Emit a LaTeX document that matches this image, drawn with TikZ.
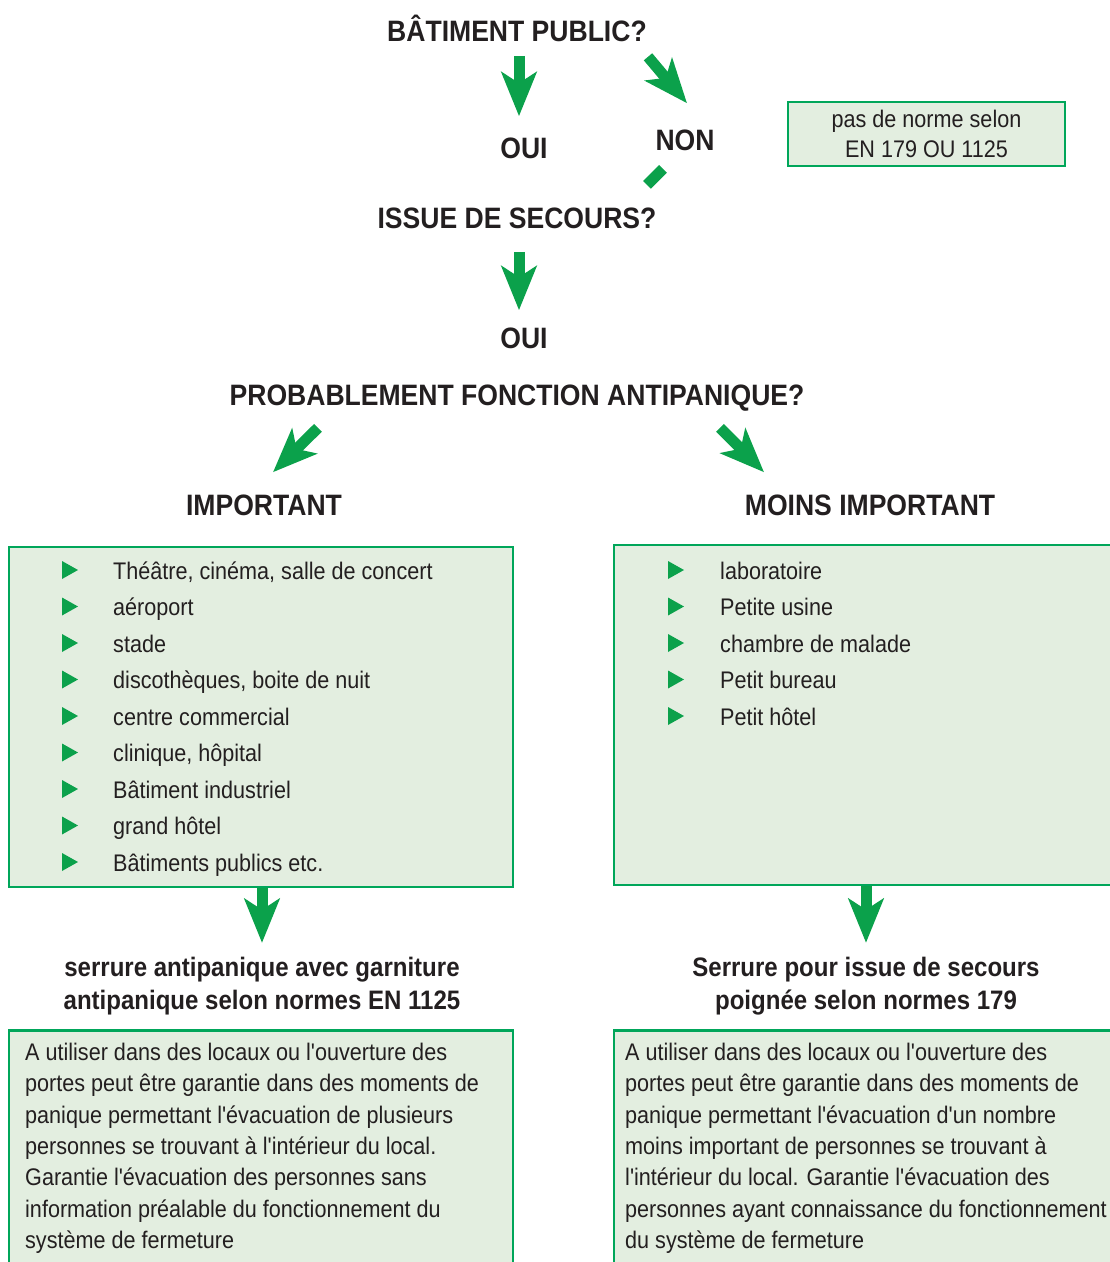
\documentclass[tikz,border=0pt]{standalone}
\usepackage{fontspec}
\setmainfont[FakeStretch=0.9,Ligatures=TeXOff]{Liberation Sans}
\usetikzlibrary{arrows.meta,positioning}

\definecolor{vert}{RGB}{11,161,75}
\definecolor{bord}{RGB}{0,166,90}
\definecolor{fond}{RGB}{227,238,224}
\definecolor{encre}{RGB}{35,31,32}

\begin{document}
\begin{tikzpicture}[x=1pt,y=-1pt,
    titre/.style={font=\bfseries\fontsize{29.5}{36}\selectfont, text=encre, inner sep=0pt, text height=21.2pt, text depth=0pt},
    sous/.style={font=\bfseries\fontsize{26.7}{33}\selectfont, text=encre, inner sep=0pt, align=center},
    texte/.style={font=\fontsize{24}{31.3}\selectfont, text=encre, inner sep=0pt, align=left},
    boite/.style={draw=bord, line width=2.5pt, fill=fond, inner sep=0pt},
    fleche/.style={draw=vert, line width=11pt, -{Stealth[length=44pt, width=35pt, inset=11pt]}},
    puce/.style={fill=vert}]
    %    \tikzstyle{every node}+=[inner sep=0pt]

        \useasboundingbox (0,0) rectangle (1110,1262);

        \node[titre] (batiment) at (517,31) {BÂTIMENT PUBLIC?};
        \node[titre] (oui1) at (524,148) {OUI};
        \node[titre] (non) at (685,140) {NON};
        \node[boite, texte, align=center, font=\fontsize{24}{30}\selectfont, minimum width=277pt, minimum height=64pt] (pasnorme) at (926.5,134) {pas de norme selon\\EN 179 OU 1125};
        \node[titre] (issue) at (517,218) {ISSUE DE SECOURS?};
        \node[titre] (oui2) at (524,338) {OUI};
        \node[titre] (proba) at (517,395) {PROBABLEMENT FONCTION ANTIPANIQUE?};
        \node[titre] (imp) at (264,505) {IMPORTANT};
        \node[titre] (moins) at (870,505) {MOINS IMPORTANT};

        \draw[fleche, shorten <=14pt, shorten >=21pt] ([xshift=2pt]batiment.south) -- ([xshift=-5pt]oui1.north);
        \draw[fleche] ([shift={(131,15)}]batiment.south) -- ([shift={(2,-26)}]non.north);
        \draw[draw=vert, line width=11pt] ([shift={(-22,18)}]non.south) -- ([shift={(-38,34)}]non.south); % bout de ligne sous NON
        \draw[fleche, shorten <=23pt, shorten >=17pt] ([xshift=2pt]issue.south) -- ([xshift=-5pt]oui2.north);
        \draw[fleche] ([shift={(-199,22)}]proba.south) -- ([shift={(9,-22)}]imp.north);
        \draw[fleche] ([shift={(203,22)}]proba.south) -- ([shift={(-106,-22)}]moins.north);

        % listes
        \node[boite, minimum width=504pt, minimum height=340pt] (listeL) at (261,717) {};
        \node[boite, minimum width=500pt, minimum height=340pt] (listeR) at (864,715) {};
        \foreach \lieu [count=\i] in {{Théâtre, cinéma, salle de concert}, aéroport, stade, {discothèques, boite de nuit}, centre commercial, {clinique, hôpital}, Bâtiment industriel, grand hôtel, Bâtiments publics etc.} {
            \node[texte, anchor=base west] (imp\i) at (113,{579+36.5*(\i-1)}) {\lieu};
            \fill[puce] (62,{561+36.5*(\i-1)}) -- ++(16,9) -- ++(-16,9) -- cycle;
        }
        \foreach \lieu [count=\i] in {laboratoire, Petite usine, chambre de malade, Petit bureau, Petit hôtel} {
            \node[texte, anchor=base west] (moins\i) at (720,{579+36.5*(\i-1)}) {\lieu};
            \fill[puce] (668,{561+36.5*(\i-1)}) -- ++(16,9) -- ++(-16,9) -- cycle;
        }

        \node[sous] (serL) at (262,986) {serrure antipanique avec garniture\\antipanique selon normes EN 1125};
        \node[sous] (serR) at (866,986) {Serrure pour issue de secours\\poignée selon normes 179};
        \draw[fleche, shorten >=14pt] ([xshift=1pt]listeL.south) -- (serL.north);
        \draw[fleche, shorten >=14pt] ([xshift=2pt]listeR.south) -- (serR.north);

        % descriptions
        \node[boite, anchor=north, minimum width=504pt, minimum height=260pt] (descL) at (261,1029) {};
        \node[boite, anchor=north, minimum width=500pt, minimum height=260pt] (descR) at (864,1029) {};
        \node[texte, anchor=north west] (txtL) at (25,1043) {A utiliser dans des locaux ou l'ouverture des\\portes peut être garantie dans des moments de\\panique permettant l'évacuation de plusieurs\\personnes se trouvant à l'intérieur du local.\\Garantie l'évacuation des personnes sans\\information préalable du fonctionnement du\\système de fermeture};
        \node[texte, anchor=north west] (txtR) at (625,1043) {A utiliser dans des locaux ou l'ouverture des\\portes peut être garantie dans des moments de\\panique permettant l'évacuation d'un nombre\\moins important de personnes se trouvant à\\l'intérieur du local. Garantie l'évacuation des\\personnes ayant connaissance du fonctionnement\\du système de fermeture};
\end{tikzpicture}
\end{document}
